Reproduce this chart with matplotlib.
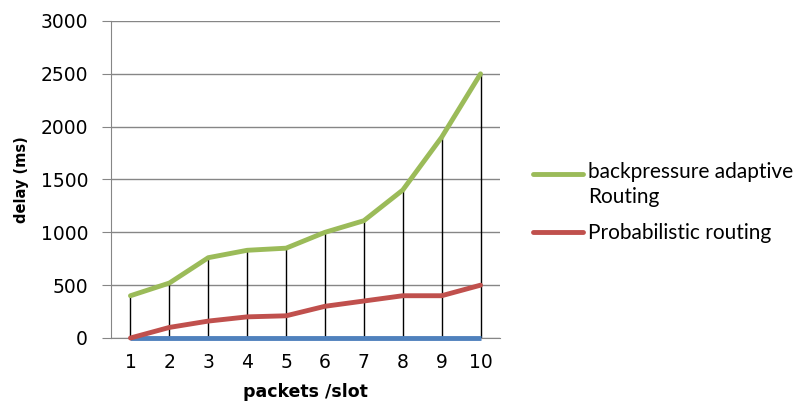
import numpy as np
import matplotlib.pyplot as plt

slots = [1, 2, 3, 4, 5, 6, 7, 8, 9, 10]
backpressure = [400, 520, 760, 830, 850, 1000, 1110, 1400, 1900, 2500]
probabilistic = [0, 100, 160, 200, 210, 300, 350, 400, 400, 500]
baseline = [0, 0, 0, 0, 0, 0, 0, 0, 0, 0]

fig = plt.figure(figsize=(8.05, 4.03), dpi=100)
ax = fig.add_axes([0.1379, 0.1613, 0.4832, 0.7866])

grey = '#868686'
ax.set_axisbelow(True)
ax.grid(axis='y', color=grey, lw=1)

# drop lines from the top series down to zero
ax.vlines(slots, 0, backpressure, colors='black', lw=1, zorder=2)

ax.plot(slots, baseline, color='#4F81BD', lw=3.5, solid_capstyle='butt',
        clip_on=False, zorder=3)
ax.plot(slots, probabilistic, color='#C0504D', lw=3.5, solid_capstyle='round',
        clip_on=False, label='Probabilistic routing', zorder=4)
ax.plot(slots, backpressure, color='#9BBB59', lw=3.5, solid_capstyle='round',
        clip_on=False, label='backpressure adaptive\nRouting', zorder=5)

ax.set_xlim(0.5, 10.5)
ax.set_ylim(0, 3000)
ax.set_xticks(slots)
ax.set_yticks(np.arange(0, 3001, 500))
ax.tick_params(axis='x', length=0, pad=11, labelsize=13.5)
ax.tick_params(axis='y', length=6.5, color=grey, pad=10, labelsize=13.5)

for side in ['top', 'right']:
    ax.spines[side].set_visible(False)
ax.spines['left'].set_color(grey)
ax.spines['bottom'].set_color(grey)

ax.set_xlabel('packets /slot', fontweight='bold', fontsize=12.5, labelpad=8)
ax.set_ylabel('delay (ms)', fontweight='bold', fontsize=10.5, labelpad=8)

handles, labels = ax.get_legend_handles_labels()
leg = fig.legend(handles[::-1], labels[::-1], loc='upper left',
                 bbox_to_anchor=(0.662, 0.597), frameon=False,
                 prop={'family': 'Lato', 'size': 15},
                 borderpad=0, borderaxespad=0,
                 handlelength=2.4, handletextpad=0.25, labelspacing=0.77)
for t in leg.get_texts():
    t.set_linespacing(1.3)
# put the green key level with the first line of its two-line label
key = leg.get_lines()[0]
key.set_ydata(np.asarray(key.get_ydata()) + 8.4)

plt.savefig('out.png', dpi=100)
